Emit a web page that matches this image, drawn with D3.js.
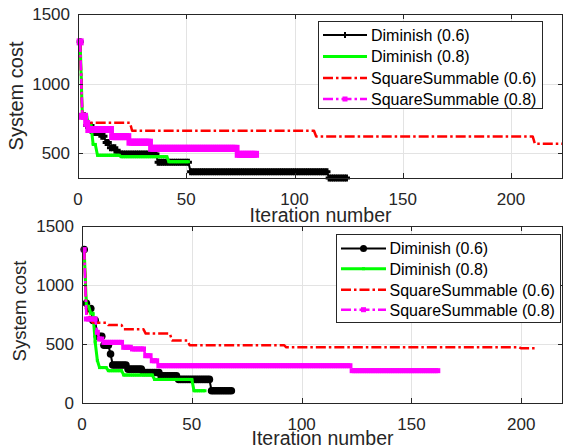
<!DOCTYPE html>
<html><head><meta charset="utf-8">
<script src="https://cdn.jsdelivr.net/npm/d3@7"></script>
<style>body{margin:0;background:#fff}svg{display:block;font-family:"Liberation Sans",Arial,sans-serif}</style>
</head><body><svg id="c" width="564" height="447"></svg>
<script>
// ---------- data (run-length: iteration where a value starts, value) ----------
const seriesNames = ["Diminish (0.6)", "Diminish (0.8)", "SquareSummable (0.6)", "SquareSummable (0.8)"];
const xTicks = [0, 50, 100, 150, 200];
const topYTicks = [500, 1000, 1500];
const botYTicks = [0, 500, 1000, 1500];
const xLabel = "Iteration number";
const yLabel = "System cost";

// top panel
const topIterDim06 = [1, 2, 4, 7, 11, 13, 15, 18, 20, 37, 52, 116, 124];
const topCostDim06 = [1300, 770, 700, 650, 623, 577, 540, 507, 496, 436, 367, 323, 323];
const topIterDim08 = [1, 2, 5, 7, 9, 20, 42, 51];
const topCostDim08 = [1300, 770, 700, 564, 486, 476, 440, 440];
const topIterSq06 = [1, 2, 4, 25, 110, 211, 224];
const topCostSq06 = [1300, 770, 719, 662, 621, 569, 569];
const topIterSq08 = [1, 2, 4, 5, 16, 24, 34, 74, 82];
const topCostSq08 = [1300, 766, 715, 671, 620, 580, 536, 493, 493];

// bottom panel
const botIterDim06 = [1, 2, 3, 5, 7, 10, 13, 14, 21, 28, 36, 44, 59, 68];
const botCostDim06 = [1300, 845, 800, 700, 565, 490, 415, 322, 287, 258, 230, 200, 104, 104];
const botIterDim08 = [1, 2, 4, 6, 7, 8, 12, 19, 33, 51, 56];
const botCostDim08 = [1300, 820, 760, 517, 360, 300, 274, 237, 200, 104, 104];
const botIterSq06 = [1, 2, 4, 5, 12, 19, 29, 41, 49, 93, 200, 207];
const botCostSq06 = [1300, 760, 700, 680, 660, 625, 588, 530, 490, 472, 463, 463];
const botIterSq08 = [1, 2, 7, 8, 10, 19, 23, 29, 32, 35, 123, 162];
const botCostSq08 = [1300, 712, 599, 542, 514, 472, 458, 401, 358, 316, 274, 274];

// ---------- helpers ----------
function expand(iters, costs) {
  const out = [];
  const last = iters[iters.length - 1];
  let k = 0;
  for (let i = iters[0]; i <= last; i++) {
    while (k + 1 < iters.length && iters[k + 1] <= i) k++;
    out.push([i, costs[k]]);
  }
  return out;
}

const svg = d3.select("#c");
const AX = "#262626", GRID = "#e3e3e3";
const DASHDOT = "10,3,2.5,3";

const styles = {
  top: [
    {color: "#000", w: 2, dash: null, marker: "plus", ms: 7},
    {color: "#00ff00", w: 3, dash: null, marker: "sq", ms: 3},
    {color: "#ff0000", w: 2.5, dash: DASHDOT, marker: null},
    {color: "#ff00ff", w: 2.5, dash: DASHDOT, marker: "sq", ms: 7}
  ],
  bot: [
    {color: "#000", w: 2, dash: null, marker: "circ", ms: 7.6},
    {color: "#00ff00", w: 3, dash: null, marker: "sq", ms: 3},
    {color: "#ff0000", w: 2.5, dash: DASHDOT, marker: null},
    {color: "#ff00ff", w: 2.5, dash: DASHDOT, marker: "sq", ms: 5}
  ]
};

function drawMarker(g, x, y, st, legend) {
  if (!st.marker) return;
  const s = st.ms;
  if (st.marker === "plus") {
    const m = legend ? 3 : s / 2;
    g.append("path").attr("d", `M${x - m},${y}H${x + m}M${x},${y - m}V${y + m}`)
      .attr("stroke", st.color).attr("stroke-width", legend ? 2 : 3).attr("fill", "none");
  } else if (st.marker === "sq") {
    const m = legend ? Math.min(s, 5) : s;
    g.append("rect").attr("x", x - m / 2).attr("y", y - m / 2).attr("width", m).attr("height", m)
      .attr("fill", st.color);
  } else if (st.marker === "circ") {
    g.append("circle").attr("cx", x).attr("cy", y).attr("r", legend ? 3.5 : s / 2).attr("fill", st.color);
  }
}

function panel(cfg) {
  const x = d3.scaleLinear().domain([0, cfg.xMax]).range([cfg.left, cfg.right]);
  const y = d3.scaleLinear().domain([cfg.yMin, cfg.yMax]).range([cfg.bottom, cfg.top]);
  const g = svg.append("g");
  // grid
  g.selectAll(null).data(xTicks).enter().append("line")
    .attr("x1", d => Math.round(x(d)) + 0.5).attr("x2", d => Math.round(x(d)) + 0.5)
    .attr("y1", cfg.top).attr("y2", cfg.bottom).attr("stroke", GRID).attr("stroke-width", 1);
  g.selectAll(null).data(cfg.yTicks).enter().append("line")
    .attr("y1", d => Math.round(y(d)) + 0.5).attr("y2", d => Math.round(y(d)) + 0.5)
    .attr("x1", cfg.left).attr("x2", cfg.right).attr("stroke", GRID).attr("stroke-width", 1);

  // series
  const line = d3.line().x(d => x(d[0])).y(d => y(d[1]));
  cfg.series.forEach((s, i) => {
    const st = cfg.styles[i];
    const pts = expand(s[0], s[1]);
    g.append("path").datum(pts).attr("d", line).attr("fill", "none")
      .attr("stroke", st.color).attr("stroke-width", st.w)
      .attr("stroke-dasharray", st.dash).attr("stroke-linejoin", "round");
    if (st.marker) {
      const mg = g.append("g");
      pts.forEach(p => drawMarker(mg, x(p[0]), y(p[1]), st, false));
    }
  });

  // axes (box with inward ticks)
  const bx = g.append("g");
  bx.append("rect").attr("x", cfg.left + 0.5).attr("y", cfg.top + 0.5)
    .attr("width", cfg.right - cfg.left - 1).attr("height", cfg.bottom - cfg.top)
    .attr("fill", "none").attr("stroke", AX).attr("stroke-width", 1);
  const tl = 5;
  xTicks.forEach(t => {
    const px = Math.round(x(t)) + 0.5;
    bx.append("line").attr("x1", px).attr("x2", px).attr("y1", cfg.bottom).attr("y2", cfg.bottom - tl).attr("stroke", AX);
    bx.append("line").attr("x1", px).attr("x2", px).attr("y1", cfg.top).attr("y2", cfg.top + tl).attr("stroke", AX);
    bx.append("text").attr("x", x(t)).attr("y", cfg.bottom + 27).attr("text-anchor", "middle")
      .attr("font-size", 17).attr("fill", AX).text(t);
  });
  cfg.yTicks.forEach(t => {
    const py = Math.round(y(t)) + 0.5;
    bx.append("line").attr("x1", cfg.left).attr("x2", cfg.left + tl).attr("y1", py).attr("y2", py).attr("stroke", AX);
    bx.append("line").attr("x1", cfg.right).attr("x2", cfg.right - tl).attr("y1", py).attr("y2", py).attr("stroke", AX);
    bx.append("text").attr("x", cfg.left - 8).attr("y", y(t) + 6).attr("text-anchor", "end")
      .attr("font-size", 17).attr("fill", AX).text(t);
  });
  // labels
  g.append("text").attr("x", (cfg.left + cfg.right) / 2).attr("y", cfg.xLabY)
    .attr("text-anchor", "middle").attr("font-size", 19.5).attr("fill", AX).text(xLabel);
  g.append("text").attr("transform", `translate(${cfg.yLabX},${cfg.yLabC}) rotate(-90)`)
    .attr("text-anchor", "middle").attr("font-size", cfg.yLabSize).attr("fill", AX).text(yLabel);

  // legend
  const L = cfg.legend;
  const lg = g.append("g");
  lg.append("rect").attr("x", L.x0 + 0.5).attr("y", L.y0 + 0.5).attr("width", L.x1 - L.x0).attr("height", L.y1 - L.y0)
    .attr("fill", "#fff").attr("stroke", AX).attr("stroke-width", 1);
  seriesNames.forEach((n, i) => {
    const st = cfg.styles[i];
    const ry = L.rows[i];
    lg.append("line").attr("x1", L.lx0).attr("x2", L.lx1).attr("y1", ry).attr("y2", ry)
      .attr("stroke", st.color).attr("stroke-width", st.w).attr("stroke-dasharray", st.dash);
    drawMarker(lg, (L.lx0 + L.lx1) / 2, ry, st, true);
    lg.append("text").attr("x", L.tx).attr("y", ry + 5.8).attr("font-size", 16).attr("fill", "#000").text(n);
  });
}

panel({
  left: 78, right: 563, top: 14, bottom: 178, xMax: 224, yMin: 323, yMax: 1500, yTicks: topYTicks,
  styles: styles.top,
  series: [[topIterDim06, topCostDim06], [topIterDim08, topCostDim08], [topIterSq06, topCostSq06], [topIterSq08, topCostSq08]],
  xLabY: 222, yLabX: 23, yLabC: 96, yLabSize: 20,
  legend: {x0: 318, x1: 542, y0: 21, y1: 108, rows: [35, 56.5, 78, 99], lx0: 323, lx1: 367, tx: 371}
});
panel({
  left: 82, right: 563, top: 226, bottom: 403, xMax: 219, yMin: 0, yMax: 1500, yTicks: botYTicks,
  styles: styles.bot,
  series: [[botIterDim06, botCostDim06], [botIterDim08, botCostDim08], [botIterSq06, botCostSq06], [botIterSq08, botCostSq08]],
  xLabY: 445, yLabX: 26, yLabC: 311, yLabSize: 18.5,
  legend: {x0: 336, x1: 560, y0: 234, y1: 322, rows: [248.5, 268.7, 289.7, 309.7], lx0: 341, lx1: 386, tx: 389.5}
});
</script></body></html>
